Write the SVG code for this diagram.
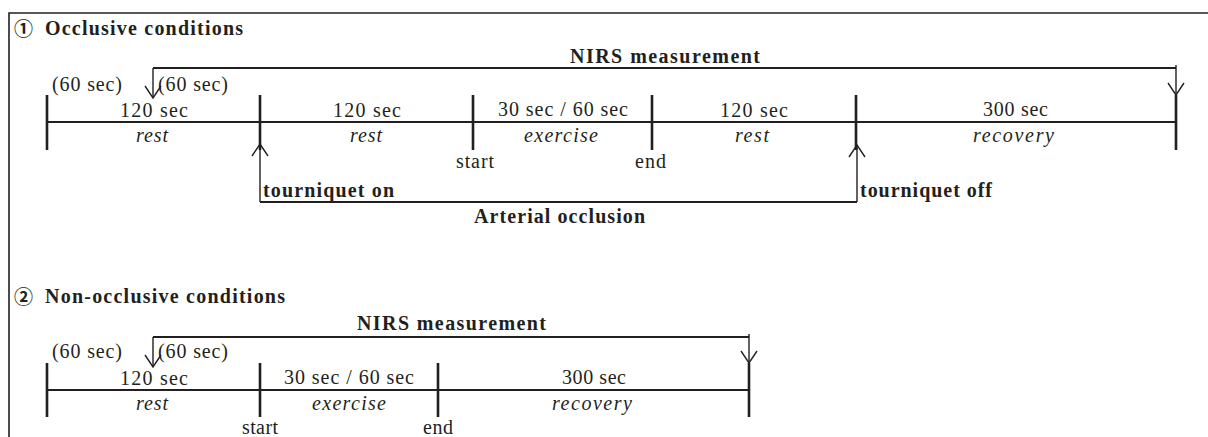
<svg xmlns="http://www.w3.org/2000/svg" width="1208" height="437" viewBox="0 0 1208 437">
<style>
  text { font-family: "Liberation Serif", "Noto Sans CJK JP", serif; font-size: 20px; fill: #231f20; }
  .b { font-weight: bold; }
  .i { font-style: italic; }
  .c { font-family: "Noto Sans CJK JP", "DejaVu Sans", sans-serif; font-size: 19px; font-weight: bold; }
  .tl { stroke: #231f20; stroke-width: 2; fill: none; }
  .tick { stroke: #231f20; stroke-width: 2.6; fill: none; }
  .arr { stroke: #231f20; stroke-width: 1.4; fill: none; marker-end: url(#open); }
  .br { stroke: #231f20; stroke-width: 1.8; fill: none; }
</style>
<defs>
  <marker id="open" markerUnits="userSpaceOnUse" markerWidth="20" markerHeight="20" refX="0" refY="0" orient="auto" overflow="visible">
    <path d="M-12,-8 L0,0 L-12,8" fill="none" stroke="#231f20" stroke-width="1.4"/>
  </marker>
</defs>
<rect width="1208" height="437" fill="#ffffff"/>
<g id="frame"><path d="M9,437 V13 H1208" fill="none" stroke="#231f20" stroke-width="1.6"/></g>

<g id="occlusive">
  <g id="title1">
    <text class="c" x="14" y="36">①</text>
    <text class="b" x="45" y="35" textLength="198" lengthAdjust="spacing">Occlusive conditions</text>
  </g>
  <g id="nirs1">
    <text class="b" x="570" y="63" textLength="190" lengthAdjust="spacing">NIRS measurement</text>
  </g>
  <g id="timeline1">
    <path class="tl" d="M47,122 H1176"/>
    <path class="tick" d="M47,95 V150 M260,95 V150 M473,95 V150 M652,95 V150 M856,95 V150 M1176,95 V150"/>
  </g>
  <g id="labels1">
    <text x="52" y="91" textLength="70" lengthAdjust="spacing">(60 sec)</text>
    <text x="158" y="91" textLength="70" lengthAdjust="spacing">(60 sec)</text>
    <text x="120" y="117" textLength="68" lengthAdjust="spacing">120  sec</text>
    <text x="333" y="117" textLength="68" lengthAdjust="spacing">120  sec</text>
    <text x="498" y="116" textLength="130" lengthAdjust="spacing">30 sec / 60 sec</text>
    <text x="720" y="117" textLength="68" lengthAdjust="spacing">120  sec</text>
    <text x="983" y="116" textLength="65" lengthAdjust="spacing">300 sec</text>
    <text class="i" x="136" y="142" textLength="32" lengthAdjust="spacing">rest</text>
    <text class="i" x="350" y="142" textLength="32" lengthAdjust="spacing">rest</text>
    <text class="i" x="524" y="142" textLength="74" lengthAdjust="spacing">exercise</text>
    <text class="i" x="735" y="142" textLength="34" lengthAdjust="spacing">rest</text>
    <text class="i" x="973" y="142" textLength="81" lengthAdjust="spacing">recovery</text>
    <text x="456" y="168" textLength="38" lengthAdjust="spacing">start</text>
    <text x="635" y="168" textLength="31" lengthAdjust="spacing">end</text>
  </g>
  <g id="occlusion1">
    <text class="b" x="263" y="197" textLength="131" lengthAdjust="spacing">tourniquet on</text>
    <text class="b" x="860" y="197" textLength="132" lengthAdjust="spacing">tourniquet off</text>
    <text class="b" x="474" y="223" textLength="171" lengthAdjust="spacing">Arterial occlusion</text>
  </g>
</g>

<g id="nonocclusive">
  <g id="title2">
    <text class="c" x="14" y="304">②</text>
    <text class="b" x="45" y="303" textLength="240" lengthAdjust="spacing">Non-occlusive conditions</text>
  </g>
  <g id="nirs2">
    <text class="b" x="357" y="330" textLength="189" lengthAdjust="spacing">NIRS measurement</text>
  </g>
  <g id="timeline2">
    <path class="tl" d="M47,390 H749"/>
    <path class="tick" d="M47,363 V417 M260,363 V417 M438,363 V417 M749,363 V417"/>
  </g>
  <g id="labels2">
    <text x="52" y="358" textLength="70" lengthAdjust="spacing">(60 sec)</text>
    <text x="158" y="358" textLength="70" lengthAdjust="spacing">(60 sec)</text>
    <text x="120" y="385" textLength="68" lengthAdjust="spacing">120  sec</text>
    <text x="284" y="384" textLength="130" lengthAdjust="spacing">30 sec / 60 sec</text>
    <text x="562" y="384" textLength="64" lengthAdjust="spacing">300 sec</text>
    <text class="i" x="136" y="410" textLength="32" lengthAdjust="spacing">rest</text>
    <text class="i" x="312" y="410" textLength="74" lengthAdjust="spacing">exercise</text>
    <text class="i" x="552" y="410" textLength="80" lengthAdjust="spacing">recovery</text>
    <text x="242" y="434" textLength="36" lengthAdjust="spacing">start</text>
    <text x="423" y="434" textLength="30" lengthAdjust="spacing">end</text>
  </g>
</g>

<g id="connectors">
  <path class="br" d="M153,68 H1176"/>
  <path class="arr" d="M153,68 V98"/>
  <path class="arr" d="M1176,65 V95"/>
  <path class="br" d="M260,202 H857"/>
  <path class="arr" d="M260,202 V144"/>
  <path class="arr" d="M857,202 V145"/>
  <path class="br" d="M153,337 H749"/>
  <path class="arr" d="M153,337 V367"/>
  <path class="arr" d="M749,334 V363"/>
</g>
</svg>
